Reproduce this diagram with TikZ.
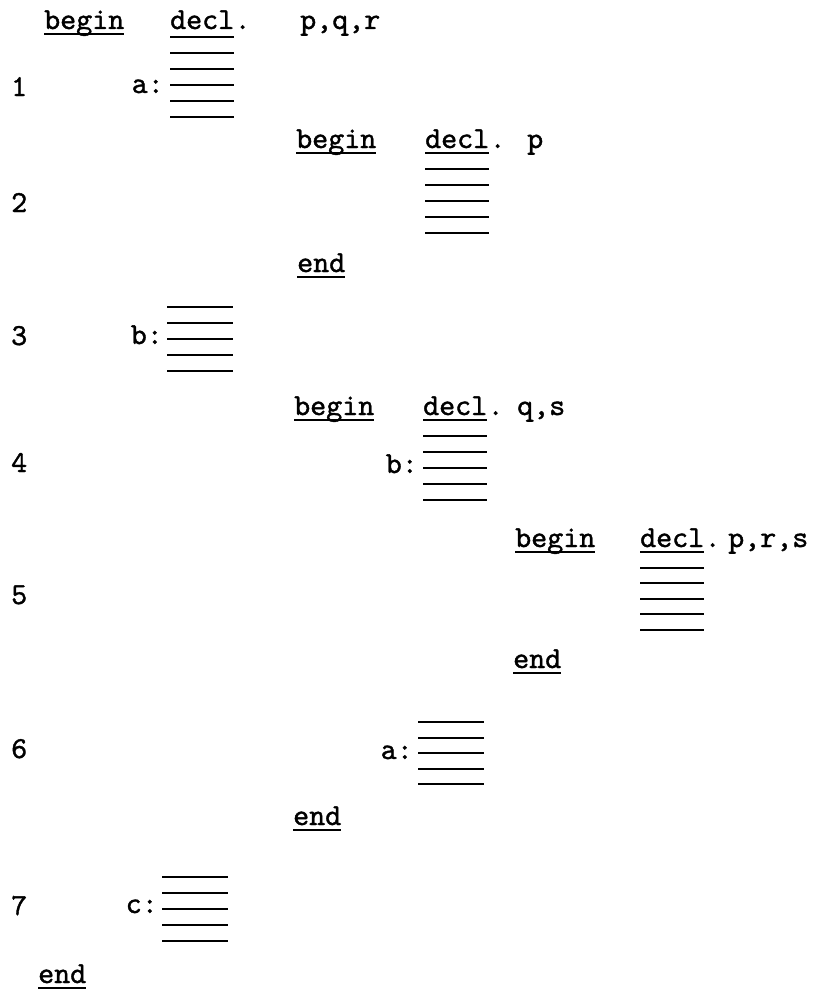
\documentclass[tikz,border=0pt]{standalone}
\usepackage{fontspec}
\setmonofont[FakeBold=1.2]{lmmono10-regular.otf}
\usetikzlibrary{positioning}
\begin{document}
\begin{tikzpicture}[x=1pt, y=-1pt,
    word/.style={anchor=base west, inner sep=0pt, font=\ttfamily\fontsize{30.5}{33}\selectfont},
    tag/.style={word, anchor=base east},
    bar/.style={line width=2pt},
    uline/.style={line width=1.8pt}]
    \useasboundingbox (0,0) rectangle (815,990);

    % Zeilennummern
    \foreach \n/\y in {1/96, 2/212, 3/345, 4/472, 5/604, 6/758, 7/915}
        \node[word] (row\n) at (11,\y) {\n};

    % Block 1 (aeusserer Block)
    \node[word] (b1) at (44,29) {begin};
    \node[word] (d1) at (170,29) {decl};
    \node[word] (dot1) at (d1.base east) {.};
    \node[word] (v1) at (300,29) {p,q,r};
    \draw[uline] ([yshift=-5pt]b1.base west) -- ([yshift=-5pt]b1.base east);
    \foreach \k in {0,...,5}
        \draw[bar] ([yshift={-8pt-16pt*\k}]d1.base west) -- ([yshift={-8pt-16pt*\k}]d1.base east);
    \node[tag] (la1) at (164,93) {a:};

    % Block 2
    \node[word] (b2) at (296,148) {begin};
    \node[word] (d2) at (425,148) {decl};
    \node[word] (dot2) at (d2.base east) {.};
    \node[word] (v2) at (527,148) {p};
    \draw[uline] ([yshift=-5pt]b2.base west) -- ([yshift=-5pt]b2.base east);
    \foreach \k in {0,...,5}
        \draw[bar] ([yshift={-5pt-16pt*\k}]d2.base west) -- ([yshift={-5pt-16pt*\k}]d2.base east);
    \node[word] (e2) at (297,272) {end};
    \draw[uline] ([yshift=-5pt]e2.base west) -- ([yshift=-5pt]e2.base east);

    % Marke b im aeusseren Block
    \coordinate (s3) at (167,307);
    \foreach \k in {0,...,4}
        \draw[bar] ([yshift={-16pt*\k}]s3) -- ++(66,0);
    \node[tag] (lb3) at (163,344) {b:};

    % Block 3
    \node[word] (b3) at (294,415) {begin};
    \node[word] (d3) at (423,415) {decl};
    \node[word] (dot3) at (d3.base east) {.};
    \node[word] (v3) at (517,415) {q,s};
    \draw[uline] ([yshift=-5pt]b3.base west) -- ([yshift=-5pt]b3.base east);
    \foreach \k in {0,...,5}
        \draw[bar] ([yshift={-5pt-16pt*\k}]d3.base west) -- ([yshift={-5pt-16pt*\k}]d3.base east);
    \node[tag] (lb4) at (418,473) {b:};

    % Block 4 (innerster Block)
    \node[word] (b4) at (515,547) {begin};
    \node[word] (d4) at (640,547) {decl};
    \node[word] (dot4) at (d4.base east) {.};
    \node[word] (v4) at (728,547) {p,r,s};
    \draw[uline] ([yshift=-5pt]b4.base west) -- ([yshift=-5pt]b4.base east);
    \foreach \k in {0,...,5}
        \draw[bar] ([yshift={-5pt-15.5pt*\k}]d4.base west) -- ([yshift={-5pt-15.5pt*\k}]d4.base east);
    \node[word] (e4) at (513,668) {end};
    \draw[uline] ([yshift=-5pt]e4.base west) -- ([yshift=-5pt]e4.base east);

    % Marke a in Block 3
    \coordinate (s6) at (418,722);
    \foreach \k in {0,...,4}
        \draw[bar] ([yshift={-15.5pt*\k}]s6) -- ++(66,0);
    \node[tag] (la6) at (413,759) {a:};
    \node[word] (e3) at (293,825) {end};
    \draw[uline] ([yshift=-5pt]e3.base west) -- ([yshift=-5pt]e3.base east);

    % Marke c im aeusseren Block
    \coordinate (s7) at (162,877);
    \foreach \k in {0,...,4}
        \draw[bar] ([yshift={-16pt*\k}]s7) -- ++(66,0);
    \node[tag] (lc7) at (158,913) {c:};
    \node[word] (e1) at (38,983) {end};
    \draw[uline] ([yshift=-5pt]e1.base west) -- ([yshift=-5pt]e1.base east);
\end{tikzpicture}
\end{document}
